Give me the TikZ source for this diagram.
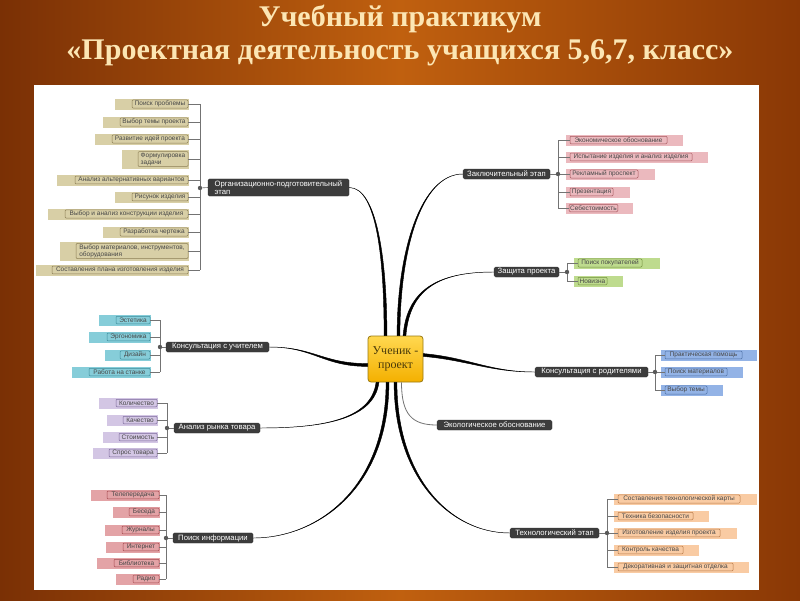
\documentclass[tikz,border=0pt]{standalone}
\usepackage{fontspec}
\setmainfont{Liberation Serif}
\setsansfont{Liberation Sans}
\usetikzlibrary{calc}
\pgfdeclarelayer{bg}
\pgfsetlayers{bg,main}
\definecolor{brL}{HTML}{7A3005}
\definecolor{brM}{HTML}{C0600F}
\definecolor{brR}{HTML}{8A3805}
\definecolor{titlec}{HTML}{FCE6B4}
\definecolor{darkbr}{HTML}{3C3C3C}
\definecolor{tanbg}{HTML}{D8CFA6}\definecolor{tanln}{HTML}{8C7F55}
\definecolor{pinkbg}{HTML}{EBB9BE}\definecolor{pinkln}{HTML}{A8585E}
\definecolor{grnbg}{HTML}{BEDB8E}\definecolor{grnln}{HTML}{72903E}
\definecolor{blubg}{HTML}{93B3E6}\definecolor{bluln}{HTML}{4D6FA5}
\definecolor{orabg}{HTML}{F9CBA3}\definecolor{oraln}{HTML}{B97A48}
\definecolor{cyabg}{HTML}{86CDD9}\definecolor{cyaln}{HTML}{3F8E9C}
\definecolor{purbg}{HTML}{D3C6E4}\definecolor{purln}{HTML}{7C6B9C}
\definecolor{redbg}{HTML}{E3A3A6}\definecolor{redln}{HTML}{A5494F}
\definecolor{centtop}{HTML}{FFD850}
\definecolor{centbot}{HTML}{F4B000}
\definecolor{centln}{HTML}{9A7A10}
\definecolor{centtx}{HTML}{4A3A0A}
\tikzset{
  leaf/.style={rectangle, rounded corners=1pt, line width=0.5pt, inner sep=1pt,
    minimum height=7.5, align=left, text=black!72,
    font=\sffamily\fontsize{6.5}{7}\selectfont},
  branch/.style={rectangle, rounded corners=1.5pt, fill=darkbr, draw=black!80,
    line width=0.3pt, text=white, inner sep=1.5pt, minimum height=10, align=left,
    font=\sffamily\fontsize{7.7}{8.4}\selectfont},
  conn/.style={draw=black!55, line width=0.6pt},
  mainl/.style={fill=black, draw=black, line width=0.45pt},
  thinl/.style={draw=black!55, line width=0.8pt},
  hubdot/.style={fill=black!65},
  titlet/.style={text=titlec, font=\bfseries\fontsize{30}{32}\selectfont}
}
% left leaf: name, bg-left x, outline-left x, outline-right x, y, colour, text, half height
\newcommand\leafL[8]{%
  \node[leaf, draw=#6ln, minimum width={#4-#3}] (#1) at ({(#3+#4)/2},#5) {#7};
  \begin{pgfonlayer}{bg}\fill[#6bg] (#2,#5-#8) rectangle (#4+1,#5+#8);\end{pgfonlayer}}
% right leaf: name, bg-right x, outline-left x, outline-right x, y, colour, text, half height
\newcommand\leafR[8]{%
  \node[leaf, draw=#6ln, minimum width={#4-#3}] (#1) at ({(#3+#4)/2},#5) {#7};
  \begin{pgfonlayer}{bg}\fill[#6bg] (#3-4,#5-#8) rectangle (#2,#5+#8);\end{pgfonlayer}}
\newcommand\brnode[5]{% name, left x, right x, y, text
  \node[branch, minimum width={#3-#2}] (#1) at ({(#2+#3)/2},#4) {#5};}
% tapered connector: start side 1, start side 2, first control (rel), second control (rel), end
\newcommand\taper[5]{%
  \path[mainl] (#1) .. controls +#3 and +#4 .. (#5) .. controls +#4 and +#3 .. (#2) -- cycle;}
\begin{document}
\begin{tikzpicture}[x=1pt,y=-1pt]
\useasboundingbox (0,0) rectangle (800,600);
\begin{pgfonlayer}{bg}
\shade[left color=brL, right color=brR, middle color=brM] (0,0) rectangle (800,600);
\fill[white] (34,85) rectangle (759,590);
\end{pgfonlayer}
% title
\node[titlet] (t1) at (400,19) {Учебный практикум};
\node[titlet] (t2) at (400,53) {«Проектная деятельность учащихся 5,6,7, класс»};

% centre
\node[rectangle, rounded corners=3pt, top color=centtop, bottom color=centbot,
  draw=centln, line width=0.8pt, minimum width=55, minimum height=46, align=center,
  text=centtx, font=\fontsize{12}{13.5}\selectfont, inner sep=1pt] (c) at (395.5,359) {Ученик -\\проект};

% branches
\brnode{org}{208}{349}{187.5}{Организационно-подготовительный\\этап}
\brnode{zak}{463}{550}{174}{Заключительный этап}
\brnode{zas}{494}{559}{272}{Защита проекта}
\brnode{rod}{535}{648}{372}{Консультация с родителями}
\brnode{eko}{437}{552}{425}{Экологическое обоснование}
\brnode{teh}{510}{599}{533}{Технологический этап}
\brnode{uch}{166}{269}{347}{Консультация с учителем}
\brnode{ana}{174}{260}{428}{Анализ рынка товара}
\brnode{poi}{173}{253}{538}{Поиск информации}

% main curves (tapered)
\taper{[xshift=-11.4]c.north}{[xshift=-8.6]c.north}{(0,-75)}{(28,0)}{org.east}
\taper{[xshift=1.6]c.north}{[xshift=4.4]c.north}{(0,-85)}{(-42,0)}{zak.west}
\taper{[xshift=7.6]c.north}{[xshift=10.4]c.north}{(4,-50)}{(-50,0)}{zas.west}
\taper{[yshift=2.6]c.east}{[yshift=5.4]c.east}{(45,4)}{(-45,0)}{rod.west}
\draw[thinl] ([xshift=6]c.south) .. controls +(0,32) and +(-25,0) .. (eko.west);
\taper{[xshift=-1.4]c.south}{[xshift=1.4]c.south}{(0,95)}{(-60,0)}{teh.west}
\taper{[yshift=-7.4]c.west}{[yshift=-4.6]c.west}{(-45,0)}{(45,0)}{uch.east}
\taper{[xshift=-19.4]c.south}{[xshift=-16.6]c.south}{(-5,38)}{(60,0)}{ana.east}
\taper{[xshift=-9.4]c.south}{[xshift=-6.6]c.south}{(0,105)}{(65,0)}{poi.east}

% hubs
\coordinate (h1) at (200,188);
\coordinate (h2) at (558,174);
\coordinate (h3) at (567,272);
\coordinate (h4) at (655,372);
\coordinate (h5) at (607,533);
\coordinate (h6) at (160,347);
\coordinate (h7) at (167,428);
\coordinate (h8) at (166,538);

% tan cluster
\leafL{l1}{115}{132}{188}{104}{tan}{Поиск проблемы}{5.5}
\leafL{l2}{103}{120}{188}{122}{tan}{Выбор темы проекта}{5.5}
\leafL{l3}{95}{112}{188}{139}{tan}{Развитие идей проекта}{5.5}
\leafL{l4}{122}{138}{188}{159}{tan}{Формулировка\\задачи}{9.5}
\leafL{l5}{57}{75}{188}{180}{tan}{Анализ альтернативных вариантов}{5.5}
\leafL{l6}{115}{132}{188}{197}{tan}{Рисунок изделия}{5.5}
\leafL{l7}{48}{65}{188}{214}{tan}{Выбор и анализ конструкции изделия}{5.5}
\leafL{l8}{103}{120}{188}{232}{tan}{Разработка чертежа}{5.5}
\leafL{l9}{60}{76}{188}{251}{tan}{Выбор материалов, инструментов,\\оборудования}{9.5}
\leafL{l10}{36}{52}{188}{270}{tan}{Составления плана изготовления изделия}{5.5}
\foreach \n in {l1,l2,l3,l4,l5,l6,l7,l8,l9,l10} \draw[conn] (\n.east) -- (\n.east -| h1);
\draw[conn] (l1.east -| h1) -- (l10.east -| h1);
\draw[conn] (h1) -- (org.west);
\fill[hubdot] (h1) circle (2.2);

% pink cluster
\leafR{r1}{683}{570}{667}{140}{pink}{Экономическое обоснование}{5.5}
\leafR{r2}{708}{570}{692}{157}{pink}{Испытание изделия и анализ изделия}{5.5}
\leafR{r3}{655}{570}{638}{174}{pink}{Рекламный проспект}{5.5}
\leafR{r4}{630}{570}{613}{192}{pink}{Презентация}{5.5}
\leafR{r5}{633}{570}{617}{208}{pink}{Себестоимость}{5.5}
\foreach \n in {r1,r2,r3,r4,r5} \draw[conn] (\n.west) -- (\n.west -| h2);
\draw[conn] (r1.west -| h2) -- (r5.west -| h2);
\draw[conn] (zak.east) -- (h2);
\fill[hubdot] (h2) circle (2.2);

% green cluster
\leafR{g1}{660}{578}{642}{263}{grn}{Поиск покупателей}{5.5}
\leafR{g2}{623}{578}{607}{281}{grn}{Новизна}{5.5}
\foreach \n in {g1,g2} \draw[conn] (\n.west) -- (\n.west -| h3);
\draw[conn] (g1.west -| h3) -- (g2.west -| h3);
\draw[conn] (zas.east) -- (h3);
\fill[hubdot] (h3) circle (2.2);

% blue cluster
\leafR{b1}{757}{665}{742}{355}{blu}{Практическая помощь}{5.5}
\leafR{b2}{743}{665}{727}{372}{blu}{Поиск материалов}{5.5}
\leafR{b3}{723}{665}{707}{390}{blu}{Выбор темы}{5.5}
\foreach \n in {b1,b2,b3} \draw[conn] (\n.west) -- (\n.west -| h4);
\draw[conn] (b1.west -| h4) -- (b3.west -| h4);
\draw[conn] (rod.east) -- (h4);
\fill[hubdot] (h4) circle (2.2);

% orange cluster
\leafR{o1}{757}{618}{740}{499}{ora}{Составления технологической карты}{5.5}
\leafR{o2}{709}{618}{693}{516}{ora}{Техника безопасности}{5.5}
\leafR{o3}{737}{618}{720}{533}{ora}{Изготовление изделия проекта}{5.5}
\leafR{o4}{699}{618}{683}{550}{ora}{Контроль качества}{5.5}
\leafR{o5}{749}{618}{733}{567}{ora}{Декоративная и защитная отделка}{5.5}
\foreach \n in {o1,o2,o3,o4,o5} \draw[conn] (\n.west) -- (\n.west -| h5);
\draw[conn] (o1.west -| h5) -- (o5.west -| h5);
\draw[conn] (teh.east) -- (h5);
\fill[hubdot] (h5) circle (2.2);

% cyan cluster
\leafL{c1}{99}{116}{150}{320}{cya}{Эстетика}{5.5}
\leafL{c2}{89}{107}{150}{337}{cya}{Эргономика}{5.5}
\leafL{c3}{105}{120}{150}{355}{cya}{Дизайн}{5.5}
\leafL{c4}{72}{89}{150}{372}{cya}{Работа на станке}{5.5}
\foreach \n in {c1,c2,c3,c4} \draw[conn] (\n.east) -- (\n.east -| h6);
\draw[conn] (c1.east -| h6) -- (c4.east -| h6);
\draw[conn] (h6) -- (uch.west);
\fill[hubdot] (h6) circle (2.2);

% purple cluster
\leafL{p1}{99}{116}{157}{403}{pur}{Количество}{5.5}
\leafL{p2}{107}{123}{157}{420}{pur}{Качество}{5.5}
\leafL{p3}{103}{119}{157}{437}{pur}{Стоимость}{5.5}
\leafL{p4}{93}{109}{157}{453}{pur}{Спрос товара}{5.5}
\foreach \n in {p1,p2,p3,p4} \draw[conn] (\n.east) -- (\n.east -| h7);
\draw[conn] (p1.east -| h7) -- (p4.east -| h7);
\draw[conn] (h7) -- (ana.west);
\fill[hubdot] (h7) circle (2.2);

% red cluster
\leafL{e1}{91}{107}{159}{495}{red}{Телепередача}{5.5}
\leafL{e2}{113}{129}{159}{512}{red}{Беседа}{5.5}
\leafL{e3}{105}{122}{159}{530}{red}{Журналы}{5.5}
\leafL{e4}{106}{123}{159}{547}{red}{Интернет}{5.5}
\leafL{e5}{97}{114}{159}{563}{red}{Библиотека}{5.5}
\leafL{e6}{116}{133}{159}{579}{red}{Радио}{5.5}
\foreach \n in {e1,e2,e3,e4,e5,e6} \draw[conn] (\n.east) -- (\n.east -| h8);
\draw[conn] (e1.east -| h8) -- (e6.east -| h8);
\draw[conn] (h8) -- (poi.west);
\fill[hubdot] (h8) circle (2.2);
\end{tikzpicture}
\end{document}
